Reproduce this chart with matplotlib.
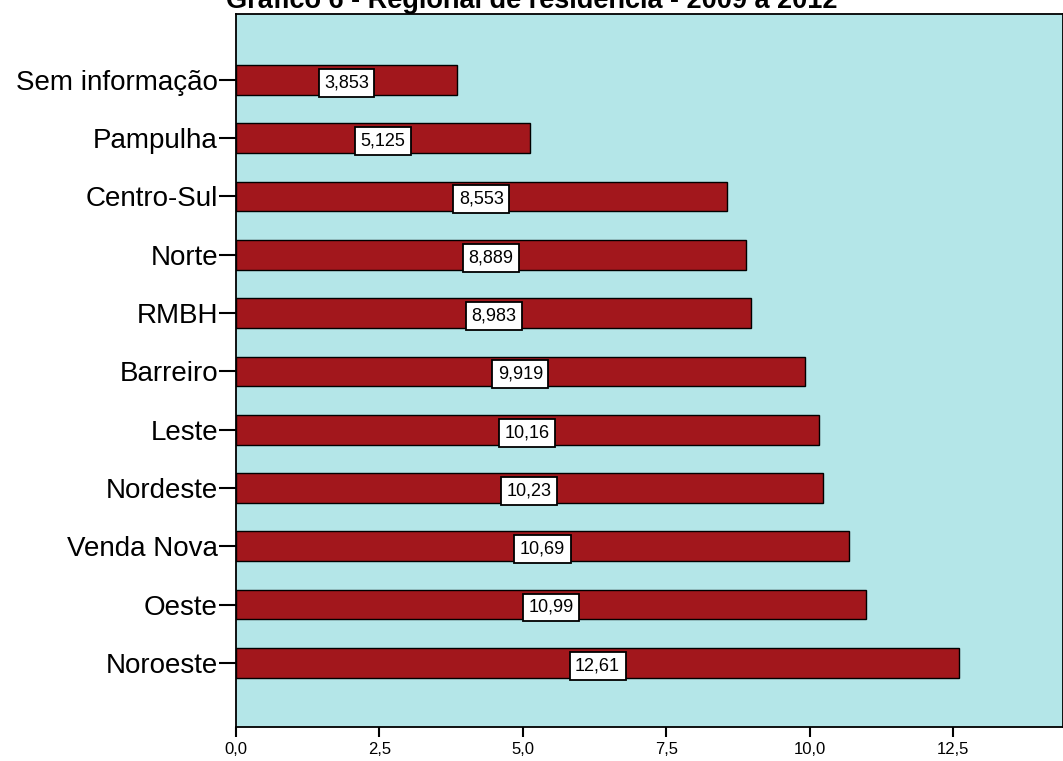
import matplotlib
matplotlib.use("Agg")
from matplotlib import pyplot as plt

regionais = ["Noroeste", "Oeste", "Venda Nova", "Nordeste", "Leste", "Barreiro",
             "RMBH", "Norte", "Centro-Sul", "Pampulha", "Sem informação"]
valores = [12.61, 10.99, 10.69, 10.23, 10.16, 9.919, 8.983, 8.889, 8.553, 5.125, 3.853]
rotulos = ["12,61", "10,99", "10,69", "10,23", "10,16", "9,919", "8,983", "8,889", "8,553", "5,125", "3,853"]
ticks_x = [0, 2.5, 5, 7.5, 10, 12.5]
ticks_x_txt = ["0,0", "2,5", "5,0", "7,5", "10,0", "12,5"]

plt.rcParams['font.family'] = ['Liberation Sans', 'DejaVu Sans']

fig = plt.figure(figsize=(10.63, 7.61), dpi=100)
ax = fig.add_axes([236 / 1063, 34 / 761, 1 - 236 / 1063, 713 / 761])
ax.set_facecolor("#b4e6e8")

pos = list(range(len(valores)))
ax.barh(pos, valores, height=0.51, color="#a2171c", edgecolor="black", linewidth=1)

for p, v, r in zip(pos, valores, rotulos):
    ax.text(v / 2, p - 0.05, r, ha="center", va="center", fontsize=13,
            bbox=dict(boxstyle="square,pad=0.3", facecolor="white", edgecolor="black", linewidth=1.3))

ax.set_yticks(pos)
ax.set_yticklabels(regionais, fontsize=20)
ax.set_xticks(ticks_x)
ax.set_xticklabels(ticks_x_txt, fontsize=12)
ax.set_xlim(0, 14.42)
ax.set_ylim(-1.1, 11.13)
ax.tick_params(axis="x", length=7, width=1.5, color="black")
ax.tick_params(axis="y", length=12, width=1.5, color="black", pad=1)
for s in ax.spines.values():
    s.set_linewidth(1.3)

fig.text(0.5, 1.0 - 8 / 761, "Gráfico 6 - Regional de residência - 2009 a 2012",
         ha="center", va="baseline", fontsize=19.5, fontweight="bold")

fig.savefig("out.png", dpi=100)
